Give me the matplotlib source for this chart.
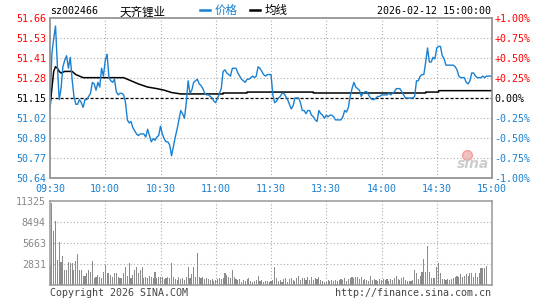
import matplotlib
matplotlib.use('Agg')
import matplotlib.pyplot as plt
from matplotlib.lines import Line2D
import numpy as np

plt.rcParams['font.family'] = ['DejaVu Sans Mono', 'Noto Sans CJK SC']

# header / labels
code = 'sz002466'
name = '天齐锂业'
stamp = '2026-02-12 15:00:00'
legend_names = ['价格', '均线']
prev_close = 51.15
price_labels = ['50.64', '50.77', '50.89', '51.02', '51.15', '51.28', '51.41', '51.53', '51.66']
pct_labels = ['-1.00%', '-0.75%', '-0.50%', '-0.25%', '0.00%', '+0.25%', '+0.50%', '+0.75%', '+1.00%']
time_labels = ['09:30', '10:00', '10:30', '11:00', '11:30', '13:30', '14:00', '14:30', '15:00']
vol_ticks = [2831, 5663, 8494, 11325]

# 1-minute prices, 09:30 .. 15:00 (241 points)
price = [
    51.09, 51.43, 51.53, 51.61, 51.36, 51.14, 51.21, 51.35, 51.39, 51.42,
    51.34, 51.41, 51.27, 51.16, 51.11, 51.11, 51.14, 51.12, 51.09, 51.14,
    51.14, 51.16, 51.18, 51.25, 51.24, 51.20, 51.25, 51.22, 51.34, 51.29,
    51.39, 51.43, 51.28, 51.26, 51.25, 51.27, 51.19, 51.17, 51.18, 51.18,
    51.17, 51.12, 51.01, 50.99, 51.00, 50.96, 50.94, 50.92, 50.91, 50.92,
    50.92, 50.92, 50.90, 50.95, 50.91, 50.87, 50.89, 50.88, 50.90, 50.91,
    50.97, 50.92, 50.89, 50.87, 50.87, 50.85, 50.78, 50.84, 50.90, 50.95,
    51.01, 51.07, 51.05, 51.02, 51.12, 51.26, 51.18, 51.20, 51.25, 51.26,
    51.27, 51.24, 51.23, 51.21, 51.18, 51.17, 51.17, 51.16, 51.15, 51.13,
    51.12, 51.15, 51.18, 51.21, 51.32, 51.33, 51.31, 51.30, 51.29, 51.34,
    51.34, 51.34, 51.31, 51.29, 51.27, 51.26, 51.25, 51.27, 51.27, 51.28,
    51.29, 51.28, 51.29, 51.35, 51.34, 51.32, 51.30, 51.29, 51.30, 51.30,
    51.30, 51.17, 51.12, 51.13, 51.15, 51.16, 51.18, 51.18, 51.16, 51.14,
    51.11, 51.08, 51.10, 51.15, 51.15, 51.15, 51.12, 51.07, 51.07, 51.05,
    51.07, 51.07, 51.04, 51.03, 51.01, 51.00, 51.07, 51.05, 51.04, 51.02,
    51.04, 51.03, 51.04, 51.04, 51.03, 51.01, 51.01, 51.01, 51.01, 51.03,
    51.07, 51.06, 51.09, 51.16, 51.21, 51.25, 51.22, 51.21, 51.20, 51.16,
    51.18, 51.19, 51.19, 51.17, 51.15, 51.14, 51.14, 51.15, 51.16, 51.16,
    51.17, 51.17, 51.17, 51.17, 51.18, 51.17, 51.18, 51.19, 51.21, 51.21,
    51.21, 51.19, 51.17, 51.15, 51.15, 51.15, 51.15, 51.15, 51.16, 51.26,
    51.26, 51.29, 51.30, 51.30, 51.38, 51.47, 51.38, 51.38, 51.41, 51.40,
    51.47, 51.48, 51.48, 51.42, 51.40, 51.36, 51.36, 51.36, 51.36, 51.36,
    51.35, 51.33, 51.29, 51.28, 51.28, 51.28, 51.25, 51.24, 51.26, 51.31,
    51.31, 51.29, 51.28, 51.28, 51.28, 51.29, 51.28, 51.29, 51.29, 51.29,
    51.29,
]

# average price line, read at break points (minute, value)
avg_min = [0, 1, 2, 3, 4, 5, 6, 8, 12, 14, 16, 18, 40, 44, 48, 53, 58, 62, 66, 71,
           94, 94, 107, 107, 143, 143, 204, 204, 211, 211, 240]
avg_val = [51.09, 51.21, 51.32, 51.35, 51.34, 51.32, 51.31, 51.32, 51.32, 51.30,
           51.29, 51.28, 51.28, 51.26, 51.24, 51.22, 51.21, 51.20, 51.185, 51.176,
           51.176, 51.182, 51.182, 51.188, 51.188, 51.182, 51.182, 51.188, 51.188, 51.197,
           51.197]

# 1-minute volume
volume = [
    2720, 11100, 7250, 8600, 3400, 5750, 3150, 3850, 2040, 2040,
    3150, 2940, 3030, 2040, 3170, 4200, 2040, 2040, 1220, 1220,
    1590, 2040, 1810, 3260, 910, 1130, 1360, 1040, 910, 1810,
    2720, 1590, 1680, 1360, 1040, 1590, 1590, 1040, 910, 910,
    1590, 2400, 1220, 2940, 910, 1360, 2040, 2400, 1680, 2040,
    2490, 910, 1040, 910, 1220, 1040, 910, 1810, 910, 1040,
    1040, 1040, 770, 910, 1130, 910, 3030, 1040, 770, 680,
    1040, 770, 910, 680, 1130, 2400, 910, 1500, 2490, 1040,
    4300, 1040, 910, 1040, 770, 910, 770, 680, 770, 590,
    680, 770, 910, 770, 910, 1590, 1360, 1040, 910, 2040,
    1040, 770, 680, 770, 450, 680, 590, 770, 910, 590,
    450, 590, 680, 1220, 590, 680, 450, 590, 590, 450,
    590, 680, 2400, 910, 590, 680, 450, 770, 910, 450,
    770, 910, 680, 590, 910, 1220, 680, 910, 910, 680,
    1040, 680, 1040, 680, 910, 770, 1040, 680, 590, 450,
    450, 680, 590, 680, 590, 680, 590, 680, 770, 680,
    910, 590, 770, 910, 1040, 910, 1040, 1130, 770, 1040,
    680, 770, 680, 590, 1220, 680, 770, 680, 590, 770,
    680, 770, 680, 770, 590, 770, 680, 910, 1220, 770,
    680, 910, 1040, 680, 590, 590, 590, 680, 2040, 1590,
    770, 1220, 1810, 3530, 1810, 5300, 1810, 910, 910, 910,
    2400, 3030, 1590, 770, 770, 680, 770, 680, 770, 910,
    1040, 1220, 1040, 1500, 1040, 1220, 1500, 1220, 1590, 1680,
    1040, 1590, 1040, 1680, 2270, 2270, 2270, 2580,
]

BLUE = '#1a80d0'
RED = '#ff0000'
GRID = '#aaaaaa'
FRAME = '#999999'
W, H = 545, 300

fig = plt.figure(figsize=(W / 100, H / 100), dpi=100)
ax = fig.add_axes([50 / W, 1 - 178 / H, 442 / W, 160 / H])
axv = fig.add_axes([50 / W, 1 - 285 / H, 442 / W, 84 / H])

# price panel
lo, hi = prev_close * 0.99, prev_close * 1.01
levels = [prev_close * (1 + k * 0.0025) for k in range(-4, 5)]
ax.set_xlim(0, 240)
ax.set_ylim(lo, hi)
for lv in levels[1:-1]:
    if abs(lv - prev_close) > 1e-6:
        ax.axhline(lv, color=GRID, lw=0.8, ls=(0, (1, 2)), zorder=1)
for t in range(30, 240, 30):
    ax.axvline(t, color=GRID, lw=0.8, ls=(0, (1, 2)), zorder=1)
ax.axhline(prev_close, color='black', lw=0.9, ls=(0, (2.5, 1.5)), zorder=2)

ax.plot(avg_min, avg_val, color='black', lw=1.1, zorder=3)
ax.plot(np.arange(len(price)), price, color=BLUE, lw=1.0, zorder=4)

ax.set_yticks(levels)
ax.set_yticklabels(price_labels, fontsize=7.2)
for lbl, lv in zip(ax.get_yticklabels(), levels):
    lbl.set_color(RED if lv > prev_close + 1e-6 else ('black' if abs(lv - prev_close) < 1e-6 else BLUE))
ax.set_xticks(range(0, 241, 30))
ax.set_xticklabels(time_labels, fontsize=7.2, color=BLUE)
ax.tick_params(length=0, pad=3)
ax.tick_params(axis='x', pad=4)

axr = ax.twinx()
axr.set_ylim(lo, hi)
axr.set_yticks(levels)
axr.set_yticklabels(pct_labels, fontsize=7.2)
for lbl, lv in zip(axr.get_yticklabels(), levels):
    lbl.set_color(RED if lv > prev_close + 1e-6 else ('black' if abs(lv - prev_close) < 1e-6 else BLUE))
axr.tick_params(length=0, pad=1.5)

for a in (ax, axr, axv):
    for s in a.spines.values():
        s.set_color(FRAME)
        s.set_linewidth(1.1)

# volume panel
axv.set_xlim(0, 240)
axv.set_ylim(0, vol_ticks[-1])
for v in vol_ticks[:-1]:
    axv.axhline(v, color=GRID, lw=0.8, ls=(0, (1, 2)), zorder=1)
for t in range(30, 240, 30):
    axv.axvline(t, color=GRID, lw=0.8, ls=(0, (1, 2)), zorder=1)
axv.bar(np.arange(len(volume)), volume, width=0.6, color='#8c8c8c', lw=0, zorder=2)
axv.set_yticks(vol_ticks)
axv.set_yticklabels([str(v) for v in vol_ticks], fontsize=7.2, color='#888888')
axv.set_xticks([])
axv.tick_params(length=0, pad=3)

# header
fig.text(50 / W, 1 - 11.5 / H, code, fontsize=7.2, va='center', ha='left')
fig.text(120 / W, 1 - 12 / H, name, fontsize=8.3, va='center', ha='left',
         family=['Noto Sans CJK SC'])
fig.add_artist(Line2D([200 / W, 210 / W], [1 - 9.5 / H] * 2, color=BLUE, lw=1.8))
fig.text(215 / W, 1 - 10.5 / H, legend_names[0], fontsize=8.3, va='center', ha='left',
         color=BLUE, family=['Noto Sans CJK SC'])
fig.add_artist(Line2D([250 / W, 260 / W], [1 - 9.5 / H] * 2, color='black', lw=1.8))
fig.text(265 / W, 1 - 10.5 / H, legend_names[1], fontsize=8.3, va='center', ha='left',
         family=['Noto Sans CJK SC'])
fig.text(491 / W, 1 - 11.5 / H, stamp, fontsize=7.2, va='center', ha='right')

# footer
fig.text(50 / W, 1 - 292.5 / H, 'Copyright 2026 SINA.COM', fontsize=7.2, va='center',
         ha='left', color='#444444')
fig.text(491 / W, 1 - 292.5 / H, 'http://finance.sina.com.cn', fontsize=7.2, va='center',
         ha='right', color='#444444')

# watermark
fig.add_artist(Line2D([467 / W], [1 - 155 / H], marker='o', ms=7, color='#f6b8b8',
                      mec='#ee9a9a', alpha=0.9))
fig.text(473 / W, 1 - 164 / H, 'sina', fontsize=10, fontweight='bold', fontstyle='italic',
         family=['DejaVu Sans'], color='#c8c8c8', ha='center', va='center', alpha=0.9)

fig.savefig('out.png', dpi=100)
